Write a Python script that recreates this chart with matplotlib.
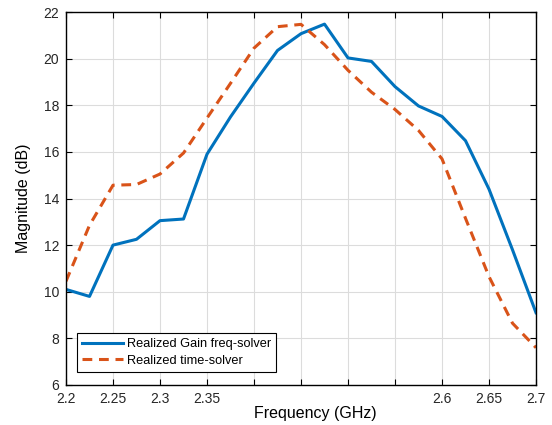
import numpy as np
import matplotlib
matplotlib.use('Agg')
import matplotlib.pyplot as plt

plt.rcParams['font.family'] = ['Liberation Sans', 'DejaVu Sans']

# frequency points (GHz)
freq = [2.2, 2.225, 2.25, 2.275, 2.3, 2.325, 2.35, 2.375, 2.4, 2.425, 2.45,
        2.475, 2.5, 2.525, 2.55, 2.575, 2.6, 2.625, 2.65, 2.675, 2.7]
gain_freq = [10.1, 9.8, 12.0, 12.25, 13.05, 13.12, 15.9, 17.5, 18.95, 20.35, 21.07,
             21.48, 20.03, 19.88, 18.8, 17.97, 17.52, 16.48, 14.4, 11.8, 9.1]
gain_time = [10.45, 12.85, 14.57, 14.6, 15.05, 15.95, 17.45, 18.94, 20.45, 21.37, 21.47,
             20.6, 19.5, 18.56, 17.82, 16.92, 15.7, 13.15, 10.65, 8.65, 7.6]

xticks = [2.2, 2.25, 2.3, 2.35, 2.4, 2.45, 2.5, 2.55, 2.6, 2.65, 2.7]
xtick_labels = ['2.2', '2.25', '2.3', '2.35', '', '', '', '', '2.6', '2.65', '2.7']
yticks = [6, 8, 10, 12, 14, 16, 18, 20, 22]

fig = plt.figure(figsize=(5.52, 4.25), dpi=100)
ax = fig.add_axes([66/552, 1-385/425, 470/552, 373/425])

ax.plot(freq, gain_freq, color='#0072BD', lw=2.2, label='Realized Gain freq-solver')
ax.plot(freq, gain_time, color='#D95319', lw=2.2, ls=(0, (3.2, 2.2)), label='Realized time-solver')

ax.set_xlim(2.2, 2.7)
ax.set_ylim(6, 22)
ax.set_xticks(xticks)
ax.set_xticklabels(xtick_labels)
ax.set_yticks(yticks)
ax.grid(True, color='#dcdcdc', lw=0.8)
ax.set_axisbelow(True)
ax.tick_params(direction='in', top=True, right=True, length=4, width=0.8,
               labelsize=10, labelcolor='#262626', pad=5)
for s in ax.spines.values():
    s.set_linewidth(1.0)
    s.set_color('black')

ax.set_xlabel('Frequency (GHz)', fontsize=11.5, labelpad=0)
ax.xaxis.label.set_x((315-66)/470)
ax.set_ylabel('Magnitude (dB)', fontsize=11.5, labelpad=9)

leg = ax.legend(loc='lower left', bbox_to_anchor=(0.023, 0.035), borderaxespad=0,
                fontsize=9.2, frameon=True, fancybox=False, edgecolor='black', framealpha=1,
                handlelength=3.2, borderpad=0.4, labelspacing=0.35, handletextpad=0.3)
leg.get_frame().set_linewidth(0.8)

fig.savefig('out.png', dpi=100)
